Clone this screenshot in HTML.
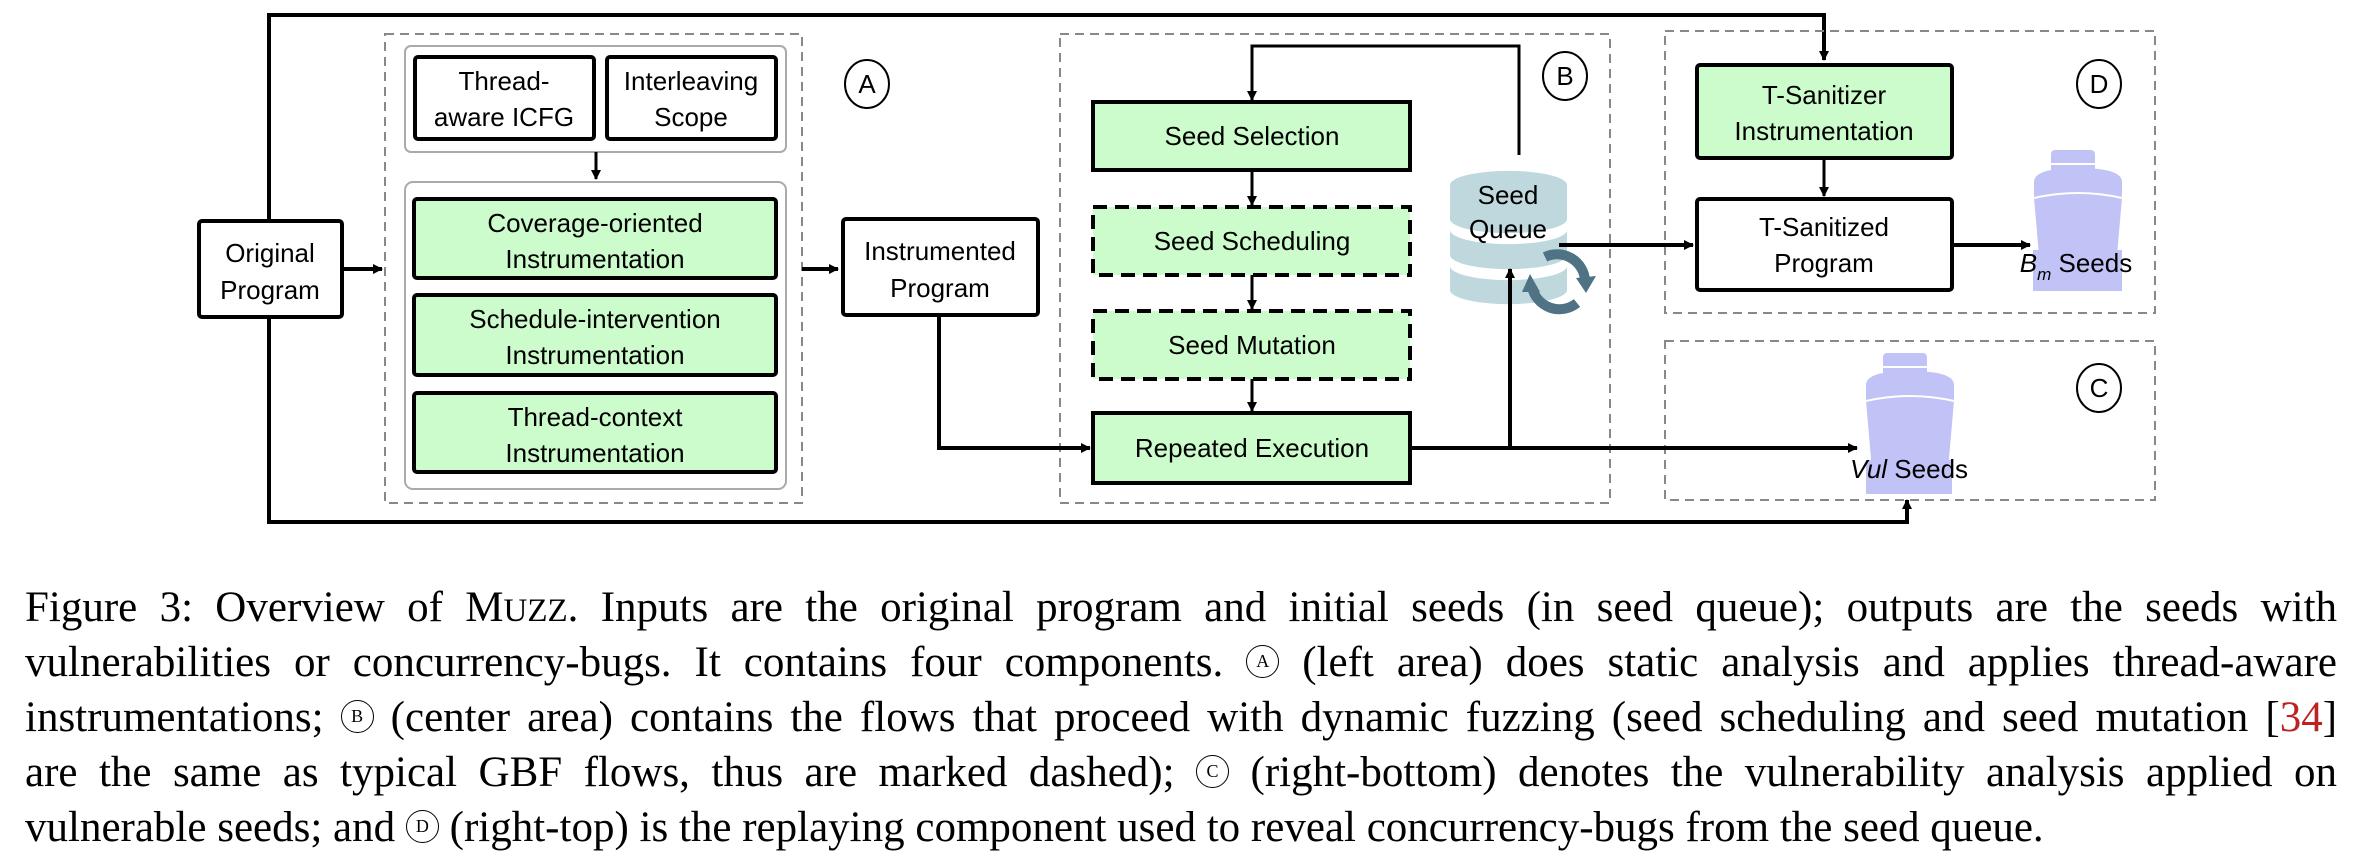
<!DOCTYPE html>
<html><head><meta charset="utf-8">
<style>
body{margin:0;background:#fff;width:2358px;height:866px;overflow:hidden;position:relative}
svg{position:absolute;left:0;top:0}
svg text{font-family:"Liberation Sans",sans-serif;font-size:26px;fill:#000;text-anchor:middle}
.cap{position:absolute;left:25px;width:2312px;font-family:"Liberation Serif",serif;font-size:43px;line-height:55px}
.cap div{text-align:justify;text-align-last:justify;height:55px;overflow:hidden}
.cap div.last{text-align-last:left}
.c{display:inline-block;box-sizing:border-box;width:33px;height:33px;border:1.5px solid #000;border-radius:50%;font-size:18px;line-height:30px;text-align:center;text-align-last:center;position:relative;top:-9px;vertical-align:baseline}
</style></head><body>
<svg width="2358" height="866" viewBox="0 0 2358 866">
<defs>
<marker id="ar" markerWidth="10" markerHeight="10" refX="9" refY="5" orient="auto" markerUnits="userSpaceOnUse"><path d="M0,0 L10,5 L0,10 z" fill="#000"/></marker>
</defs>
<g fill="none" stroke="#000" stroke-width="4">
<polyline points="269,221 269,15 1824,15 1824,60" marker-end="url(#ar)"/>
<polyline points="269,317 269,522 1907,522 1907,500" marker-end="url(#ar)"/>
</g>
<g fill="none" stroke="#888" stroke-width="2" stroke-dasharray="9,6">
<rect x="385" y="34" width="417" height="469"/>
<rect x="1060" y="34" width="550" height="469"/>
<rect x="1665" y="31" width="490" height="282"/>
<rect x="1665" y="341" width="490" height="159"/>
</g>
<rect x="405" y="46" width="381" height="106" rx="6" fill="#fff" stroke="#aaa" stroke-width="2"/>
<rect x="405" y="182" width="381" height="307" rx="8" fill="#fff" stroke="#aaa" stroke-width="2"/>
<g stroke="#000" stroke-width="4">
<rect x="199" y="221" width="143" height="96" rx="3" fill="#fff"/>
<rect x="415" y="57" width="179" height="82" rx="3" fill="#fff"/>
<rect x="607" y="57" width="169" height="82" rx="3" fill="#fff"/>
<rect x="414" y="199" width="362" height="79" rx="3" fill="#ccfccb"/>
<rect x="414" y="295" width="362" height="80" rx="3" fill="#ccfccb"/>
<rect x="414" y="393" width="362" height="79" rx="3" fill="#ccfccb"/>
<rect x="843" y="219" width="195" height="96" rx="3" fill="#fff"/>
<rect x="1093" y="102" width="317" height="68" fill="#ccfccb"/>
<rect x="1093" y="207" width="317" height="68" fill="#ccfccb" stroke-dasharray="14,8"/>
<rect x="1093" y="311" width="317" height="68" fill="#ccfccb" stroke-dasharray="14,8"/>
<rect x="1093" y="413" width="317" height="70" fill="#ccfccb"/>
<rect x="1697" y="65" width="255" height="93" rx="3" fill="#ccfccb"/>
<rect x="1697" y="199" width="255" height="91" rx="3" fill="#fff"/>
</g>
<g fill="#fff" stroke="#000" stroke-width="2">
<ellipse cx="867" cy="84" rx="22" ry="24"/>
<ellipse cx="1565" cy="76" rx="22" ry="24"/>
<ellipse cx="2099" cy="84" rx="22" ry="24"/>
<ellipse cx="2099" cy="388" rx="22" ry="24"/>
</g>
<text x="867" y="93">A</text><text x="1565" y="85">B</text><text x="2099" y="93">D</text><text x="2099" y="397">C</text>
<g fill="#bed8de">
<path d="M1450,185 a58,14 0 0 1 117,0 v34 a58,14 0 0 1 -117,0 z"/>
<path d="M1450,230 a58,14 0 0 0 117,0 v25 a58,14 0 0 1 -117,0 z"/>
<path d="M1450,266 a58,14 0 0 0 117,0 v24 a58,14 0 0 1 -117,0 z"/>
</g>
<text x="1508" y="204">Seed</text><text x="1508" y="238">Queue</text>
<g fill="none" stroke="#4f7384" stroke-width="10">
<path d="M1545,257 A28,28 0 0 1 1585,280"/>
<path d="M1577,303 A28,28 0 0 1 1532,287"/>
</g>
<path d="M1576,278 L1596,276 L1586,293 z" fill="#4f7384"/>
<path d="M1522,292 L1540,292 L1530,274 z" fill="#4f7384"/>
<g fill="#c1c3f6">
<rect x="2051" y="150" width="44" height="24" rx="4"/>
<path d="M2034,182 q0,-14 44,-14 q44,0 44,14 v16 l-8,92 h-72 l-8,-92 z"/>
<rect x="2033" y="250" width="89" height="41"/>
<rect x="1883" y="353" width="44" height="24" rx="4"/>
<path d="M1866,385 q0,-14 44,-14 q44,0 44,14 v16 l-8,92 h-72 l-8,-92 z"/>
<rect x="1866" y="460" width="86" height="34"/>
</g>
<g stroke="#fff" stroke-width="2" fill="none"><path d="M2034,198 q44,-10 88,0"/><path d="M1866,401 q44,-10 88,0"/><line x1="2051" y1="164" x2="2095" y2="164"/><line x1="1883" y1="367" x2="1927" y2="367"/></g>
<g fill="none" stroke="#000" stroke-width="4">
<line x1="342" y1="269" x2="382" y2="269" marker-end="url(#ar)"/>
<line x1="596" y1="152" x2="596" y2="179" stroke-width="3" marker-end="url(#ar)"/>
<line x1="802" y1="269" x2="838" y2="269" marker-end="url(#ar)"/>
<polyline points="939,315 939,448 1090,448" marker-end="url(#ar)"/>
<polyline points="1519,155 1519,46 1252,46 1252,100" stroke-width="3" marker-end="url(#ar)"/>
<line x1="1252" y1="170" x2="1252" y2="205" stroke-width="3" marker-end="url(#ar)"/>
<line x1="1252" y1="275" x2="1252" y2="309" stroke-width="3" marker-end="url(#ar)"/>
<line x1="1252" y1="379" x2="1252" y2="411" stroke-width="3" marker-end="url(#ar)"/>
<line x1="1410" y1="448" x2="1857" y2="448" marker-end="url(#ar)"/>
<line x1="1510" y1="448" x2="1510" y2="269" marker-end="url(#ar)"/>
<line x1="1559" y1="245" x2="1693" y2="245" marker-end="url(#ar)"/>
<line x1="1952" y1="245" x2="2030" y2="245" marker-end="url(#ar)"/>
<line x1="1824" y1="158" x2="1824" y2="196" stroke-width="3" marker-end="url(#ar)"/>
</g>
<text x="270" y="262">Original</text><text x="270" y="299">Program</text>
<text x="504" y="90">Thread-</text><text x="504" y="126">aware ICFG</text>
<text x="691" y="90">Interleaving</text><text x="691" y="126">Scope</text>
<text x="595" y="232">Coverage-oriented</text><text x="595" y="268">Instrumentation</text>
<text x="595" y="328">Schedule-intervention</text><text x="595" y="364">Instrumentation</text>
<text x="595" y="426">Thread-context</text><text x="595" y="462">Instrumentation</text>
<text x="940" y="260">Instrumented</text><text x="940" y="297">Program</text>
<text x="1252" y="145">Seed Selection</text>
<text x="1252" y="250">Seed Scheduling</text>
<text x="1252" y="354">Seed Mutation</text>
<text x="1252" y="457">Repeated Execution</text>
<text x="1824" y="104">T-Sanitizer</text><text x="1824" y="140">Instrumentation</text>
<text x="1824" y="236">T-Sanitized</text><text x="1824" y="272">Program</text>
<text x="2076" y="272"><tspan font-style="italic">B</tspan><tspan font-style="italic" font-size="17" dy="8">m</tspan><tspan dy="-8"> Seeds</tspan></text>
<text x="1909" y="478"><tspan font-style="italic">Vul</tspan> Seeds</text>
</svg>
<div class="cap" style="top:580px">
<div>Figure 3: Overview of M<span style="font-size:33px">UZZ</span>. Inputs are the original program and initial seeds (in seed queue); outputs are the seeds with</div>
<div>vulnerabilities or concurrency-bugs. It contains four components. <span class="c">A</span> (left area) does static analysis and applies thread-aware</div>
<div>instrumentations; <span class="c">B</span> (center area) contains the flows that proceed with dynamic fuzzing (seed scheduling and seed mutation [<span style="color:#b22">34</span>]</div>
<div>are the same as typical GBF flows, thus are marked dashed); <span class="c">C</span> (right-bottom) denotes the vulnerability analysis applied on</div>
<div class="last">vulnerable seeds; and <span class="c">D</span> (right-top) is the replaying component used to reveal concurrency-bugs from the seed queue.</div>
</div>
</body></html>
